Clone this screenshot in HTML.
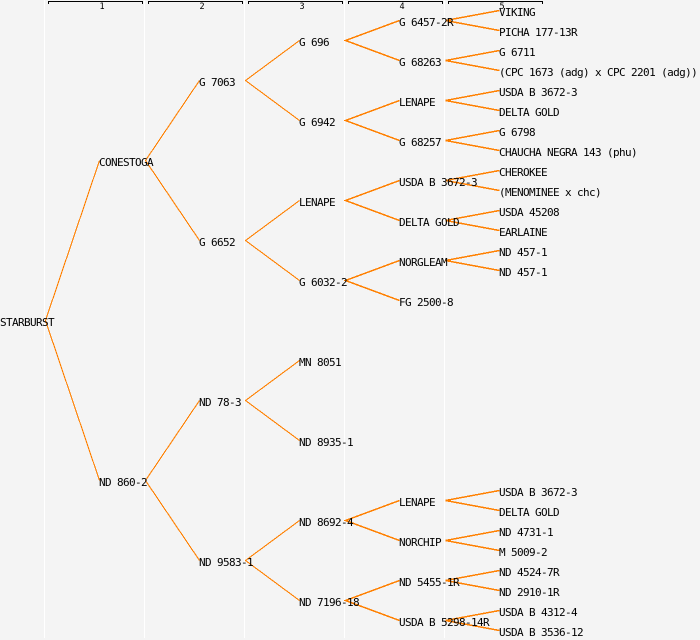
<!DOCTYPE html>
<html>
<head>
<meta charset="utf-8">
<title>Pedigree</title>
<style>
html,body{margin:0;padding:0;background:#f4f4f4;}
svg{display:block;}
text{font-family:"DejaVu Sans Mono","Liberation Mono",monospace;font-size:11px;letter-spacing:-0.62px;fill:#000;}
text.n{font-size:8.5px;letter-spacing:0;text-anchor:middle;}
</style>
</head>
<body>
<svg width="700" height="640" viewBox="0 0 700 640" xmlns="http://www.w3.org/2000/svg">
<rect width="700" height="640" fill="#f4f4f4"/>
<g fill="#fff" shape-rendering="crispEdges">
<rect x="44" y="0" width="1" height="638"/>
<rect x="144" y="0" width="1" height="638"/>
<rect x="244" y="0" width="1" height="638"/>
<rect x="344" y="0" width="1" height="638"/>
<rect x="444" y="0" width="1" height="638"/>
</g>
<g fill="none" stroke="#000" stroke-width="1" shape-rendering="crispEdges">
<path d="M48.5 4V1.5H142.5V4"/>
<path d="M148.5 4V1.5H242.5V4"/>
<path d="M248.5 4V1.5H342.5V4"/>
<path d="M348.5 4V1.5H442.5V4"/>
<path d="M448.5 4V1.5H542.5V4"/>
</g>
<text class="n" x="102" y="9">1</text>
<text class="n" x="202" y="9">2</text>
<text class="n" x="302" y="9">3</text>
<text class="n" x="402" y="9">4</text>
<text class="n" x="502" y="9">5</text>
<g fill="none" stroke="#ff8000" stroke-width="1.1" shape-rendering="crispEdges" transform="translate(.5 .5)">
<path d="M99 160L45 320L99 480"/>
<path d="M199 80L145 160L199 240"/>
<path d="M199 400L145 480L199 560"/>
<path d="M299 40L245 80L299 120"/>
<path d="M299 200L245 240L299 280"/>
<path d="M299 360L245 400L299 440"/>
<path d="M299 520L245 560L299 600"/>
</g>
<g fill="none" stroke="#ff8000" stroke-width="1.5" shape-rendering="crispEdges" transform="translate(.5 .5)">
<path d="M399 20L345 40L399 60"/>
<path d="M399 100L345 120L399 140"/>
<path d="M399 180L345 200L399 220"/>
<path d="M399 260L345 280L399 300"/>
<path d="M399 500L345 520L399 540"/>
<path d="M399 580L345 600L399 620"/>
<path d="M499 10L445 20L499 30"/>
<path d="M499 50L445 60L499 70"/>
<path d="M499 90L445 100L499 110"/>
<path d="M499 130L445 140L499 150"/>
<path d="M499 170L445 180L499 190"/>
<path d="M499 210L445 220L499 230"/>
<path d="M499 250L445 260L499 270"/>
<path d="M499 490L445 500L499 510"/>
<path d="M499 530L445 540L499 550"/>
<path d="M499 570L445 580L499 590"/>
<path d="M499 610L445 620L499 630"/>
</g>
<text x="0" y="326">STARBURST</text>
<text x="99" y="166">CONESTOGA</text>
<text x="99" y="486">ND 860-2</text>
<text x="199" y="86">G 7063</text>
<text x="199" y="246">G 6652</text>
<text x="199" y="406">ND 78-3</text>
<text x="199" y="566">ND 9583-1</text>
<text x="299" y="46">G 696</text>
<text x="299" y="126">G 6942</text>
<text x="299" y="206">LENAPE</text>
<text x="299" y="286">G 6032-2</text>
<text x="299" y="366">MN 8051</text>
<text x="299" y="446">ND 8935-1</text>
<text x="299" y="526">ND 8692-4</text>
<text x="299" y="606">ND 7196-18</text>
<text x="399" y="26">G 6457-2R</text>
<text x="399" y="66">G 68263</text>
<text x="399" y="106">LENAPE</text>
<text x="399" y="146">G 68257</text>
<text x="399" y="186">USDA B 3672-3</text>
<text x="399" y="226">DELTA GOLD</text>
<text x="399" y="266">NORGLEAM</text>
<text x="399" y="306">FG 2500-8</text>
<text x="399" y="506">LENAPE</text>
<text x="399" y="546">NORCHIP</text>
<text x="399" y="586">ND 5455-1R</text>
<text x="399" y="626">USDA B 5298-14R</text>
<text x="499" y="16">VIKING</text>
<text x="499" y="36">PICHA 177-13R</text>
<text x="499" y="56">G 6711</text>
<text x="499" y="76">(CPC 1673 (adg) x CPC 2201 (adg))</text>
<text x="499" y="96">USDA B 3672-3</text>
<text x="499" y="116">DELTA GOLD</text>
<text x="499" y="136">G 6798</text>
<text x="499" y="156">CHAUCHA NEGRA 143 (phu)</text>
<text x="499" y="176">CHEROKEE</text>
<text x="499" y="196">(MENOMINEE x chc)</text>
<text x="499" y="216">USDA 45208</text>
<text x="499" y="236">EARLAINE</text>
<text x="499" y="256">ND 457-1</text>
<text x="499" y="276">ND 457-1</text>
<text x="499" y="496">USDA B 3672-3</text>
<text x="499" y="516">DELTA GOLD</text>
<text x="499" y="536">ND 4731-1</text>
<text x="499" y="556">M 5009-2</text>
<text x="499" y="576">ND 4524-7R</text>
<text x="499" y="596">ND 2910-1R</text>
<text x="499" y="616">USDA B 4312-4</text>
<text x="499" y="636">USDA B 3536-12</text>
</svg>
</body>
</html>
